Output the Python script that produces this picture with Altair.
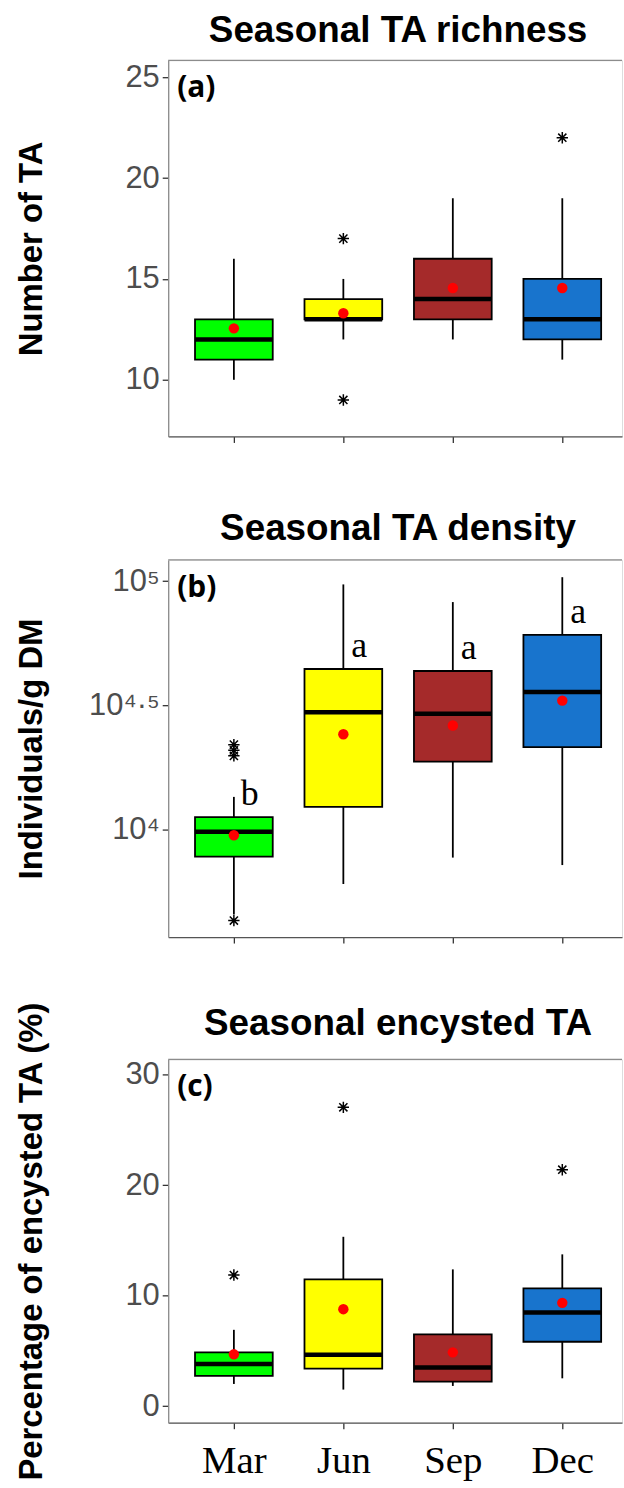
import altair as alt
import pandas as pd

# ---- shared categories and fills ----
months = ["Mar", "Jun", "Sep", "Dec"]
fills = ["#00FF00", "#FFFF00", "#A52A2A", "#1874CD"]

# ---- (a) richness: number of TA ----
rich_low = [10, 12, 12, 11]
rich_q1 = [11, 13, 13, 12]
rich_med = [12, 13, 14, 13]
rich_q3 = [13, 14, 16, 15]
rich_high = [16, 15, 19, 19]
rich_mean = [12.55, 13.3, 14.55, 14.55]
rich_out_month = ["Jun", "Jun", "Dec"]
rich_out_value = [17, 9, 22]

# ---- (b) density: individuals per g dry mass ----
dens_low = [4571, 6067, 7745, 7228]
dens_q1 = [7816, 12388, 18836, 21528]
dens_med = [9840, 29717, 29309, 35892]
dens_q3 = [11272, 44361, 43551, 60814]
dens_high = [13583, 97051, 82414, 103753]
dens_mean = [9528, 24266, 26303, 33113]
dens_out_month = ["Mar", "Mar", "Mar", "Mar"]
dens_out_value = [4325, 19861, 20893, 22029]
dens_letters = ["b", "a", "a", "a"]

# ---- (c) encysted share, % ----
cyst_low = [2.01, 1.50, 1.83, 2.52]
cyst_q1 = [2.74, 3.40, 2.22, 5.83]
cyst_med = [3.82, 4.66, 3.49, 8.48]
cyst_q3 = [4.87, 11.48, 6.49, 10.67]
cyst_high = [6.91, 15.33, 12.38, 13.74]
cyst_mean = [4.69, 8.78, 4.87, 9.35]
cyst_out_month = ["Mar", "Jun", "Dec"]
cyst_out_value = [11.87, 27.05, 21.4]

W = 456
SANS = "Liberation Sans"
SERIF = "Liberation Serif"
ASTERISK = "M-1,0L1,0M0,-1L0,1M-0.72,-0.72L0.72,0.72M-0.72,0.72L0.72,-0.72"


def frame(low, q1, med, q3, high, mean, letters=None):
    df = pd.DataFrame({
        "month": months, "pos": [1, 2, 3, 4],
        "low": low, "q1": q1, "med": med, "q3": q3, "high": high, "mean": mean,
    })
    if letters is not None:
        df["letter"] = letters
    return df


def panel(df, out_m, out_v, title, ytitle, tag, height, ydomain, yvalues,
          title_offset, log=False, xlabels=False, label_expr=None):
    xscale = alt.Scale(domain=[0.4, 0.4 + W / 110.0], nice=False, zero=False)
    xaxis = alt.Axis(
        values=[1, 2, 3, 4], title=None, grid=False,
        labels=xlabels,
        labelExpr="['Mar','Jun','Sep','Dec'][datum.value - 1]",
        labelFont=SERIF, labelFontSize=39, labelColor="black", labelPadding=13,
        tickSize=6, tickColor="#333333", tickWidth=1.3,
        domainColor="#555555", domainWidth=1.3,
    )
    ysc = alt.Scale(domain=ydomain, nice=False, zero=False,
                    type="log" if log else "linear")
    yargs = dict(
        values=yvalues, title=ytitle, grid=False,
        labelFont=SANS, labelFontSize=31, labelColor="#4D4D4D", labelPadding=3,
        tickSize=6, tickColor="#333333", tickWidth=1.3,
        domainColor="#8C8C8C", domainWidth=1.3,
        titleFont=SANS, titleFontSize=33, titleFontWeight="bold", titleColor="black",
        titleX=-127, titleY=height / 2, titleAngle=270, titleAlign="center",
        titleBaseline="alphabetic",
    )
    if label_expr:
        yargs["labelExpr"] = label_expr
    yaxis = alt.Axis(**yargs)

    X = alt.X("pos:Q", scale=xscale, axis=xaxis)
    base = alt.Chart(df)

    whisk_lo = base.mark_rule(color="black", strokeWidth=1.8).encode(
        x=X, y=alt.Y("low:Q", scale=ysc, axis=yaxis), y2="q1:Q")
    whisk_hi = base.mark_rule(color="black", strokeWidth=1.8).encode(
        x=X, y=alt.Y("q3:Q", scale=ysc, axis=yaxis), y2="high:Q")
    box = base.transform_calculate(
        lo="datum.pos - 0.355", hi="datum.pos + 0.355"
    ).mark_rect(stroke="black", strokeWidth=1.8).encode(
        x=alt.X("lo:Q", scale=xscale, axis=xaxis), x2="hi:Q",
        y=alt.Y("q1:Q", scale=ysc, axis=yaxis), y2="q3:Q",
        fill=alt.Fill("month:N", scale=alt.Scale(domain=months, range=fills), legend=None),
    )
    median = base.transform_calculate(
        lo="datum.pos - 0.355", hi="datum.pos + 0.355"
    ).mark_rule(color="black", strokeWidth=4.5).encode(
        x=alt.X("lo:Q", scale=xscale, axis=xaxis), x2="hi:Q",
        y=alt.Y("med:Q", scale=ysc, axis=yaxis),
    )
    mean = base.mark_point(filled=True, color="#FF0000", size=110, opacity=1).encode(
        x=X, y=alt.Y("mean:Q", scale=ysc, axis=yaxis))

    odf = pd.DataFrame({"month": out_m, "value": out_v})
    odf["pos"] = [months.index(m) + 1 for m in out_m]
    outl = alt.Chart(odf).mark_point(
        shape=ASTERISK, size=130, color="black", strokeWidth=1.5, filled=False, opacity=1
    ).encode(x=X, y=alt.Y("value:Q", scale=ysc, axis=yaxis))

    tag_mark = alt.Chart(pd.DataFrame({"tag": [tag]})).mark_text(
        font="Open Sans", fontSize=30, fontWeight="bold", align="left",
        baseline="middle", color="black"
    ).encode(x=alt.value(9), y=alt.value(28), text="tag:N")

    top_border = alt.Chart(pd.DataFrame({"k": [0]})).mark_rule(
        color="#8C8C8C", strokeWidth=1.3
    ).encode(x=alt.value(0), x2=alt.value(W), y=alt.value(0))

    layers = [whisk_lo, whisk_hi, box, median, mean, outl]
    if "letter" in df.columns:
        layers.append(base.mark_text(
            font=SERIF, fontSize=36, color="black", align="center",
            baseline="alphabetic", dx=16, dy=-12
        ).encode(x=X, y=alt.Y("q3:Q", scale=ysc, axis=yaxis), text="letter:N"))
    layers += [tag_mark, top_border]

    return alt.layer(*layers).properties(
        width=W, height=height,
        title=alt.TitleParams(
            title, font=SANS, fontSize=37, fontWeight="bold", color="black",
            anchor="middle", dx=3, offset=title_offset, baseline="alphabetic",
            frame="group",
        ),
    )


rich = frame(rich_low, rich_q1, rich_med, rich_q3, rich_high, rich_mean)
dens = frame(dens_low, dens_q1, dens_med, dens_q3, dens_high, dens_mean, dens_letters)
cyst = frame(cyst_low, cyst_q1, cyst_med, cyst_q3, cyst_high, cyst_mean)

pa = panel(rich, rich_out_month, rich_out_value, "Seasonal TA richness",
           "Number of TA", "(a)", 378, [7.19, 25.84], [10, 15, 20, 25], -19)
pb = panel(dens, dens_out_month, dens_out_value, "Seasonal TA density",
           "Individuals/g DM", "(b)", 379, [3712, 121789], [10000, 31622.7766, 100000],
           -18, log=True,
           label_expr="datum.value > 90000 ? '10⁵' : datum.value > 20000 ? '10⁴·⁵' : '10⁴'")
pc = panel(cyst, cyst_out_month, cyst_out_value, "Seasonal encysted TA",
           "Percentage of encysted TA (%)", "(c)", 365, [-1.5, 31.38], [0, 10, 20, 30],
           -71, xlabels=True)

chart = alt.vconcat(alt.vconcat(pa, pb, spacing=65), pc, spacing=56).properties(
    padding={"left": 15, "top": 7, "right": 0, "bottom": 0}
).configure_view(stroke=None).configure(background="white")

chart.save("out.html", embed_options={"renderer": "svg", "actions": False})
